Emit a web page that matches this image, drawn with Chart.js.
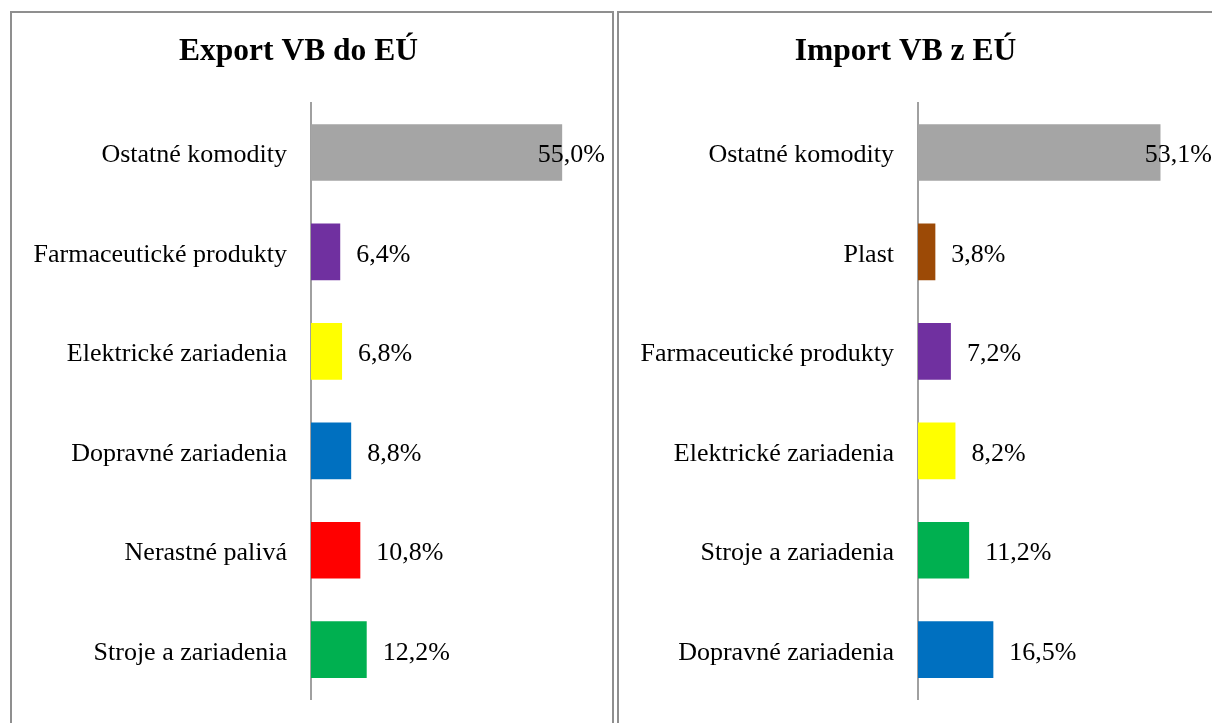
<!DOCTYPE html>
<html>
<head>
<meta charset="utf-8">
<script src="https://cdn.jsdelivr.net/npm/chart.js@4"></script>
<style>
  body { margin: 0; background: #fff; overflow: hidden; }
  .panel {
    position: absolute;
    top: 11px;
    width: 600px;
    height: 740px;
    border: 2px solid #8f8f8f;
    background: #fff;
  }
  #panelExport { left: 10px; }
  #panelImport { left: 617px; }
</style>
</head>
<body>
<div class="panel" id="panelExport"><canvas id="exportChart" width="600" height="726"></canvas></div>
<div class="panel" id="panelImport"><canvas id="importChart" width="600" height="726"></canvas></div>

<script>
// Export VB do EÚ
const exportLabels = ['Ostatné komodity', 'Farmaceutické produkty', 'Elektrické zariadenia', 'Dopravné zariadenia', 'Nerastné palivá', 'Stroje a zariadenia'];
const exportValues = [55.0, 6.4, 6.8, 8.8, 10.8, 12.2];
const exportColors = ['#a5a5a5', '#7030a0', '#ffff00', '#0070c0', '#ff0000', '#00b050'];

// Import VB z EÚ
const importLabels = ['Ostatné komodity', 'Plast', 'Farmaceutické produkty', 'Elektrické zariadenia', 'Stroje a zariadenia', 'Dopravné zariadenia'];
const importValues = [53.1, 3.8, 7.2, 8.2, 11.2, 16.5];
const importColors = ['#a5a5a5', '#9c4a06', '#7030a0', '#ffff00', '#00b050', '#0070c0'];

const serif = '"Liberation Serif", "Times New Roman", serif';

// value labels next to the bars, pulled back inside when they would overflow
const valueLabels = {
  id: 'valueLabels',
  afterDatasetsDraw(chart) {
    const ctx = chart.ctx;
    const meta = chart.getDatasetMeta(0);
    const values = chart.data.datasets[0].data;
    const limit = chart.width - 7;
    ctx.save();
    ctx.font = '26px ' + serif;
    ctx.fillStyle = '#000';
    ctx.textBaseline = 'middle';
    ctx.textAlign = 'left';
    meta.data.forEach((bar, i) => {
      const txt = values[i].toFixed(1).replace('.', ',') + '%';
      const w = ctx.measureText(txt).width;
      let x = bar.x + 16;
      if (x + w > limit) x = limit - w;
      ctx.fillText(txt, x, bar.y + 3);
    });
    ctx.restore();
  }
};

function makeChart(id, title, labels, values, colors) {
  return new Chart(document.getElementById(id).getContext('2d'), {
    type: 'bar',
    data: {
      labels: labels,
      datasets: [{
        data: values,
        backgroundColor: colors,
        categoryPercentage: 1,
        barPercentage: 0.57,
      }],
    },
    options: {
      indexAxis: 'y',
      responsive: false,
      animation: false,
      layout: { padding: { left: 0, right: 27, top: 0, bottom: 9 } },
      plugins: {
        legend: { display: false },
        tooltip: { enabled: false },
        title: {
          display: true,
          text: title,
          color: '#000',
          font: { family: serif, size: 31.5, weight: 'bold' },
          padding: { top: 20, bottom: 32 },
        },
      },
      scales: {
        x: { display: false, min: 0, max: 60 },
        y: {
          afterFit(scale) { scale.width = 299; },
          grid: { display: false, drawTicks: false },
          border: { display: true, color: '#a0a0a0', width: 2 },
          ticks: { color: '#000', padding: 24, labelOffset: 3, font: { family: serif, size: 26 } },
        },
      },
    },
    plugins: [valueLabels],
  });
}

makeChart('exportChart', 'Export VB do EÚ', exportLabels, exportValues, exportColors);
makeChart('importChart', 'Import VB z EÚ', importLabels, importValues, importColors);
</script>
</body>
</html>
